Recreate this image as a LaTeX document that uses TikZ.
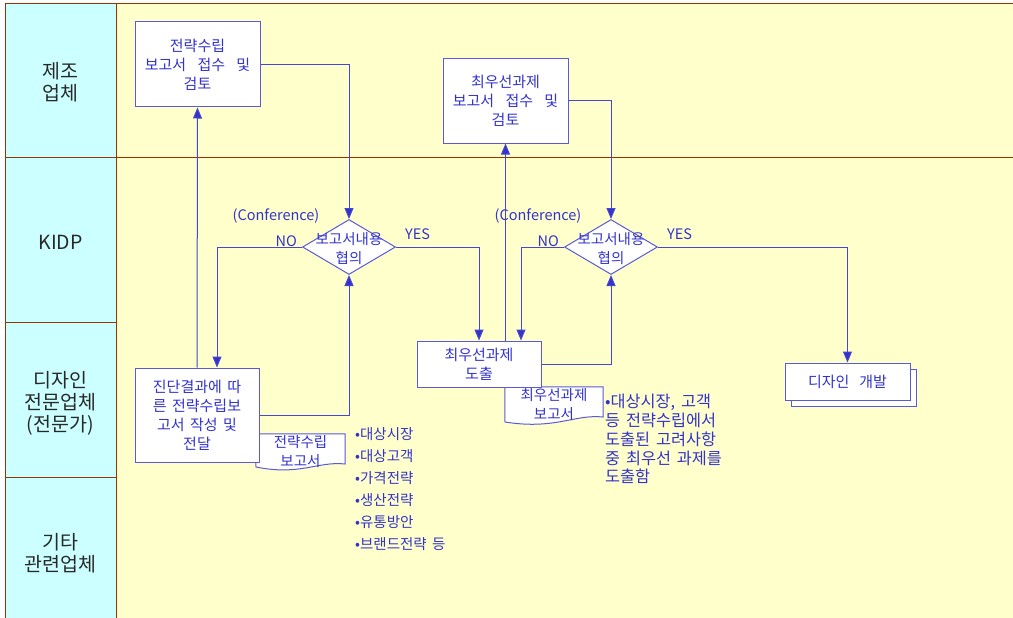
\documentclass[tikz,border=0pt]{standalone}
\usepackage{fontspec}
\setmainfont[WordSpace=1.6]{Noto Sans CJK KR}
\usetikzlibrary{arrows.meta,shapes.geometric,calc}
\definecolor{fc}{RGB}{51,51,204}
\definecolor{lc}{RGB}{70,70,210}
\definecolor{bc}{RGB}{90,90,215}
\definecolor{brd}{RGB}{153,51,0}
\definecolor{lanec}{RGB}{204,255,255}
\definecolor{yel}{RGB}{255,255,204}
\definecolor{lanetext}{RGB}{40,40,40}
\newcommand{\wsp}{\hspace{0.75em}}
\begin{document}
\begin{tikzpicture}[x=1pt,y=-1pt,
  box/.style={draw=bc, fill=white, line width=1pt, text=fc, align=center, inner sep=0pt,
              font=\fontsize{15}{19}\selectfont},
  dia/.style={diamond, draw=bc, fill=white, line width=1pt, inner sep=0pt,
              minimum width=93pt, minimum height=55pt},
  txt/.style={text=fc, align=center, inner sep=0pt, font=\fontsize{14.5}{19}\selectfont},
  note/.style={text=fc, align=left, anchor=west, inner sep=0pt, font=\fontsize{14.5}{19}\selectfont},
  lanelbl/.style={text=lanetext, align=center, inner sep=0pt, font=\fontsize{19.5}{22}\selectfont},
  flow/.style={draw=lc, line width=1pt, -{Triangle[length=11pt,width=9pt,fill=fc]}},
  doc/.style={draw=bc, fill=white, line width=1pt},
  lane/.style={draw=brd, line width=1pt}
]
\useasboundingbox (0,0) rectangle (1013,618);
% background
\fill[white] (0,0) rectangle (1013,618);
\fill[yel] (116,3.5) rectangle (1013,618);
\fill[lanec] (5,3.5) rectangle (116,618);
\draw[lane] (5,3.5) -- (1013,3.5);
\draw[lane] (5,157.5) -- (1013,157.5);
\draw[lane] (5,3.5) -- (5,618);
\draw[lane] (116,3.5) -- (116,618);
\draw[lane] (5,322.5) -- (116,322.5);
\draw[lane] (5,477.5) -- (116,477.5);
% lane labels
\node[lanelbl] (L1) at (60.5,82) {제조\\업체};
\node[lanelbl] (L2) at (60.5,242) {KIDP};
\node[lanelbl] (L3) at (60.5,403) {디자인\\전문업체\\(전문가)};
\node[lanelbl] (L4) at (60.5,553) {기타\\관련업체};

% documents (behind boxes)
\node[txt, minimum width=89pt, minimum height=34pt] (doc1) at (300.5,451) {};
\draw[doc] (doc1.north west) -- (doc1.north east) -- (345,464)
   .. controls (318,461) and (300,476) .. (256,467) -- cycle;
\node[txt] (doc1t) at (300.5,452) {전략수립\\보고서};

\node[txt, minimum width=98pt, minimum height=35pt] (doc2) at (554,404.5) {};
\draw[doc] (doc2.north west) -- (doc2.north east) -- (603,417)
   .. controls (575,414) and (555,430) .. (505,422) -- cycle;
\node[txt] (doc2t) at (554,405) {최우선과제\\보고서};

% boxes
\node[box, minimum width=125pt, minimum height=85pt] (A) at (197.5,64.5) {전략수립\\보고서\wsp 접수\wsp 및\\검토};
\node[box, minimum width=124pt, minimum height=94pt] (B) at (197,415) {진단결과에 따\\른 전략수립보\\고서 작성 및\\전달};
\node[box, minimum width=124pt, minimum height=46pt] (C) at (479,364) {최우선과제\\도출};
\node[box, minimum width=125pt, minimum height=84pt] (E) at (505.5,101) {최우선과제\\보고서\wsp 접수\wsp 및\\검토};
\node[box, minimum width=125pt, minimum height=37pt] (Fs) at (853.5,387.5) {};
\node[box, minimum width=125pt, minimum height=37pt] (F) at (847.5,381.5) {디자인\hspace{0.3em} 개발};

% diamonds
\node[dia] (D1) at (349,247) {};
\node[txt] (D1t) at (349,249) {보고서내용\\협의};
\node[dia] (D2) at (611,247) {};
\node[txt] (D2t) at (611,249) {보고서내용\\협의};

% labels
\node[txt, anchor=center] (c1) at (276,216) {(Conference)};
\node[txt, anchor=east] (no1) at (297,241) {NO};
\node[txt, anchor=west] (yes1) at (405,234) {YES};
\node[txt, anchor=center] (c2) at (538,216) {(Conference)};
\node[txt, anchor=east] (no2) at (559,241) {NO};
\node[txt, anchor=west] (yes2) at (667,234) {YES};

% notes
\node[note, anchor=north west, font=\fontsize{14.5}{22}\selectfont] (n1) at (355,427)
  {•대상시장\\•대상고객\\•가격전략\\•생산전략\\•유통방안\\•브랜드전략 등};
\node[note, anchor=north west, font=\fontsize{16.3}{18.8}\selectfont] (n2) at (605,394)
  {•대상시장, 고객\\등 전략수립에서\\도출된 고려사항\\중 최우선 과제를\\도출함};

% connectors
\coordinate (bno) at ($(B.north)+(20,0)$);
\coordinate (cno) at ($(C.north)+(42,0)$);
\draw[flow] (A.east) -| (D1.north);
\draw[flow] (D1.west) -| (bno);
\draw[flow] (B.north) -- (A.south);
\draw[flow] (B.east) -| (D1.south);
\draw[flow] (D1.east) -| (C.north);
\draw[flow] (C.north -| E.south) -- (E.south);
\draw[flow] (E.east) -| (D2.north);
\draw[flow] (C.east) -| (D2.south);
\draw[flow] (D2.west) -| (cno);
\draw[flow] (D2.east) -| (F.north);
\end{tikzpicture}
\end{document}
